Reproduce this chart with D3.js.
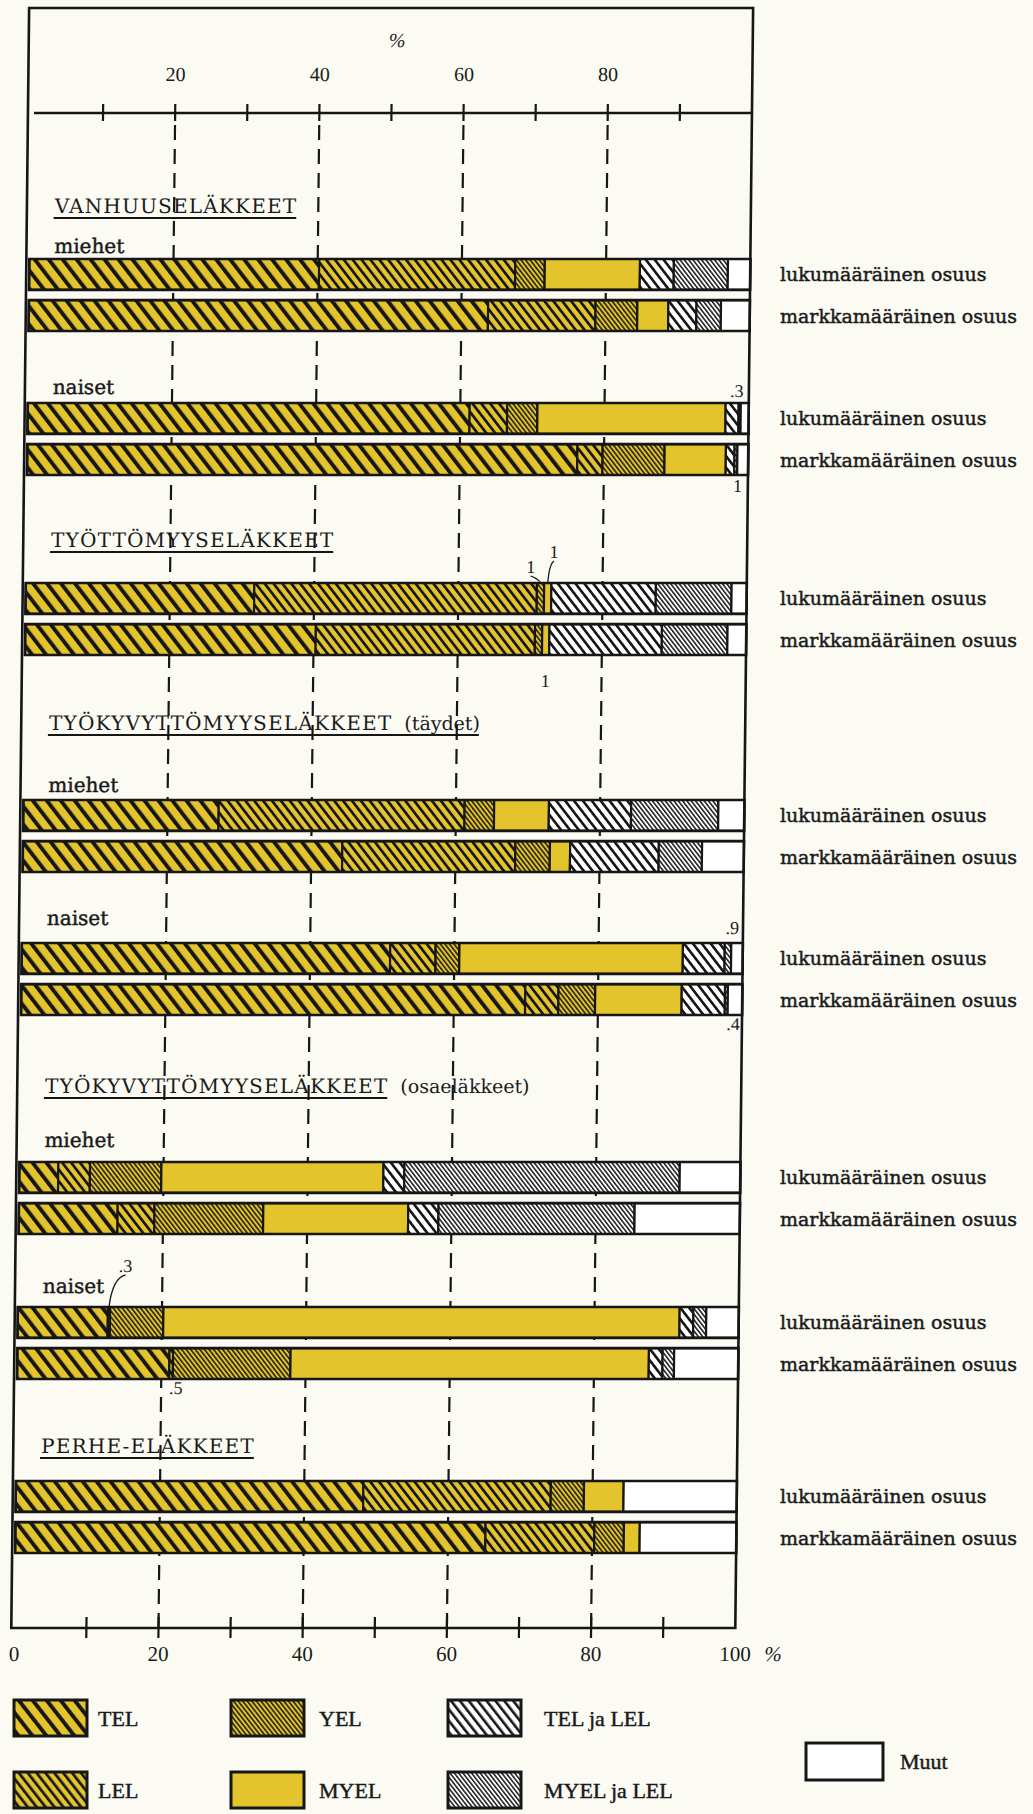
<!DOCTYPE html>
<html>
<head>
<meta charset="utf-8">
<script src="https://cdn.jsdelivr.net/npm/d3@7"></script>
<style>
  body { margin: 0; background: #fbfaf3; }
  svg { display: block; }
  text { fill: #1a1a1a; }
  .heavy { stroke: #1a1a1a; stroke-width: 0.45px; }
</style>
</head>
<body>
<div id="chart"></div>
<script>
// series (stack order, left to right)
const seriesKeys = ["TEL", "LEL", "YEL", "MYEL", "TEL ja LEL", "MYEL ja LEL", "Muut"];

// 16 bars: pairs of (lukumääräinen, markkamääräinen) per group
const barIds = ["v-m-l", "v-m-m", "v-n-l", "v-n-m", "t-l", "t-m", "tt-m-l", "tt-m-m",
  "tt-n-l", "tt-n-m", "to-m-l", "to-m-m", "to-n-l", "to-n-m", "p-l", "p-m"];

// shares in %
const telValues  = [40.2, 63.7, 61.3, 76.3, 31.7, 40.3, 27.1, 44.3, 51.1, 69.9, 5.4, 13.7, 12.5, 21.1, 48.2, 65.2];
const lelValues  = [27.2, 14.9, 5.2, 3.5, 39.2, 30.4, 34.1, 24.0, 6.3, 4.6, 4.4, 5.1, 0.3, 0.5, 26.0, 15.1];
const yelValues  = [4.1, 5.8, 4.2, 8.6, 1.0, 1.0, 4.1, 4.8, 3.3, 5.1, 9.9, 15.1, 7.4, 16.3, 4.6, 4.1];
const myelValues = [13.2, 4.3, 26.1, 8.5, 1.0, 1.0, 7.6, 2.8, 31.0, 12.0, 30.8, 20.1, 71.6, 49.7, 5.5, 2.2];
const telLelValues  = [4.7, 3.9, 1.8, 1.2, 14.5, 15.6, 11.4, 12.3, 5.8, 6.0, 2.9, 4.2, 1.9, 1.9, 0, 0];
const myelLelValues = [7.5, 3.4, 0.3, 0.4, 10.5, 9.1, 12.1, 6.0, 0.9, 0.4, 38.2, 27.2, 1.8, 1.6, 0, 0];
const muutValues = [3.1, 4.0, 1.1, 1.5, 2.1, 2.6, 3.6, 5.8, 1.6, 2.0, 8.4, 14.6, 4.5, 8.9, 15.7, 13.4];

const pairIds = ["v-m", "v-n", "t", "tt-m", "tt-n", "to-m", "to-n", "p"];
const pairLabels = ["miehet", "naiset", "", "miehet", "naiset", "miehet", "naiset", ""];
const memberIds = ["l", "m"];
const memberLabels = ["lukumääräinen osuus", "markkamääräinen osuus"];

const headings = [
  { text: "VANHUUSELÄKKEET", extra: "", underlineAll: false },
  { text: "TYÖTTÖMYYSELÄKKEET", extra: "", underlineAll: false },
  { text: "TYÖKYVYTTÖMYYSELÄKKEET", extra: "(täydet)", underlineAll: true },
  { text: "TYÖKYVYTTÖMYYSELÄKKEET", extra: "(osaeläkkeet)", underlineAll: false },
  { text: "PERHE-ELÄKKEET", extra: "", underlineAll: false }
];

const topTicks = [20, 40, 60, 80];
const bottomTicks = [0, 20, 40, 60, 80, 100];
const minorTicks = [10, 20, 30, 40, 50, 60, 70, 80, 90];

// small value notes written next to thin segments
const notes = [
  { bar: 2, key: "MYEL ja LEL", text: ".3", side: "top", dx: -3, dy: -6 },
  { bar: 3, key: "MYEL ja LEL", text: "1", side: "bottom", dx: 2, dy: 17 },
  { bar: 4, key: "YEL", text: "1", side: "top", dx: -10, dy: -10, lead: true },
  { bar: 4, key: "MYEL", text: "1", side: "top", dx: 6, dy: -25, lead: true },
  { bar: 5, key: "MYEL", text: "1", side: "bottom", dx: 0, dy: 32 },
  { bar: 8, key: "MYEL ja LEL", text: ".9", side: "top", dx: 4, dy: -9 },
  { bar: 9, key: "MYEL ja LEL", text: ".4", side: "bottom", dx: 7, dy: 15 },
  { bar: 12, key: "LEL", text: ".3", side: "top", dx: 16, dy: -35, lead: true },
  { bar: 13, key: "LEL", text: ".5", side: "bottom", dx: 5, dy: 15 }
];

const ink = "#161616";
const yellow = "#e4c42c";
const paper = "#fbfaf3";
const serif = "'DejaVu Serif', serif";
const numFont = "'Liberation Serif', serif";

const W = 1033, H = 1814;
const frameTop = 8, axisTopY = 113, axisBottomY = 1628;

const svg = d3.select("#chart").append("svg")
  .attr("width", W).attr("height", H);

svg.append("rect").attr("width", W).attr("height", H).attr("fill", paper);

// hatch patterns
const defs = svg.append("defs");
function hatch(id, bg, period, width) {
  const p = defs.append("pattern")
    .attr("id", id)
    .attr("patternUnits", "userSpaceOnUse")
    .attr("width", period).attr("height", period)
    .attr("patternTransform", "rotate(-38)");
  p.append("rect").attr("width", period).attr("height", period).attr("fill", bg);
  p.append("rect").attr("width", width).attr("height", period).attr("fill", ink);
}
hatch("p-tel", yellow, 11, 3.9);
hatch("p-lel", yellow, 7, 2.7);
hatch("p-yel", yellow, 3.6, 1.5);
hatch("p-tellel", "#ffffff", 7, 2.6);
hatch("p-myellel", "#ffffff", 3.4, 1.5);

const fills = d3.scaleOrdinal()
  .domain(seriesKeys)
  .range(["url(#p-tel)", "url(#p-lel)", "url(#p-yel)", yellow, "url(#p-tellel)", "url(#p-myellel)", "#ffffff"]);

// table for the stack
const table = barIds.map((id, i) => ({
  id,
  "TEL": telValues[i], "LEL": lelValues[i], "YEL": yelValues[i], "MYEL": myelValues[i],
  "TEL ja LEL": telLelValues[i], "MYEL ja LEL": myelLelValues[i], "Muut": muutValues[i]
}));
const stacked = d3.stack().keys(seriesKeys)(table);

// scales
const x = d3.scaleLinear().domain([0, 100]).range([32.2, 753.2]);
const pairY = d3.scaleOrdinal().domain(pairIds).range([259, 403, 583, 800, 943, 1162, 1307, 1481]);
const memberY = d3.scaleBand().domain(memberIds).range([0, 72]).paddingInner(0.25);
const barTop = i => pairY(pairIds[Math.floor(i / 2)]) + memberY(memberIds[i % 2]);
const barH = memberY.bandwidth();

// the scan leans slightly: verticals drift left going down
const g = svg.append("g").attr("transform", "skewX(-0.63)");

// frame
g.append("rect")
  .attr("x", x(0) - 3).attr("y", frameTop)
  .attr("width", x(100) - x(0) + 3).attr("height", axisBottomY - frameTop)
  .attr("fill", "none").attr("stroke", ink).attr("stroke-width", 2.6);

// top axis
g.append("line")
  .attr("x1", x(0) + 3).attr("x2", x(100))
  .attr("y1", axisTopY).attr("y2", axisTopY)
  .attr("stroke", ink).attr("stroke-width", 2.6);
g.selectAll(".tt").data(minorTicks).join("line")
  .attr("x1", d => x(d)).attr("x2", d => x(d))
  .attr("y1", axisTopY - 9).attr("y2", axisTopY + 8)
  .attr("stroke", ink).attr("stroke-width", 2.2);
g.selectAll(".tl").data(topTicks).join("text")
  .attr("x", d => x(d)).attr("y", 81)
  .attr("text-anchor", "middle")
  .style("font-family", numFont).style("font-size", "20px")
  .text(d => d);
g.append("text")
  .attr("x", x(50) + 5).attr("y", 47)
  .attr("text-anchor", "middle")
  .style("font-family", numFont).style("font-size", "20px").style("font-style", "italic")
  .text("%");

// dashed grid lines
g.selectAll(".grid").data(topTicks).join("line")
  .attr("x1", d => x(d)).attr("x2", d => x(d))
  .attr("y1", axisTopY + 12).attr("y2", axisBottomY)
  .attr("stroke", ink).attr("stroke-width", 2.2)
  .attr("stroke-dasharray", "15,9");

// bottom axis
g.selectAll(".bt").data(minorTicks).join("line")
  .attr("x1", d => x(d)).attr("x2", d => x(d))
  .attr("y1", axisBottomY - 11).attr("y2", axisBottomY + 10)
  .attr("stroke", ink).attr("stroke-width", 2.2);
g.selectAll(".bl").data(bottomTicks).join("text")
  .attr("x", d => x(d)).attr("y", axisBottomY + 33)
  .attr("text-anchor", "middle")
  .style("font-family", numFont).style("font-size", "21px")
  .text(d => d);
g.append("text")
  .attr("x", x(100) + 38).attr("y", axisBottomY + 33)
  .attr("text-anchor", "middle")
  .style("font-family", numFont).style("font-size", "21px").style("font-style", "italic")
  .text("%");

// headings
const headingY = [213, 547, 730, 1093, 1453];
headings.forEach((h, i) => {
  const t = g.append("text")
    .attr("x", 57).attr("y", headingY[i])
    .style("font-family", serif).style("font-size", "20px").style("letter-spacing", "1.2px")
    .text(h.text);
  let w = t.node().getComputedTextLength();
  let lineW = w;
  if (h.extra) {
    const e = g.append("text")
      .attr("x", 57 + w + 12).attr("y", headingY[i])
      .style("font-family", serif).style("font-size", "19px")
      .text(h.extra);
    if (h.underlineAll) lineW = w + 12 + e.node().getComputedTextLength();
  }
  g.append("line")
    .attr("x1", 56).attr("x2", 56 + lineW)
    .attr("y1", headingY[i] + 5).attr("y2", headingY[i] + 5)
    .attr("stroke", ink).attr("stroke-width", 1.8);
});

// miehet / naiset
const subY = [253, 394, 0, 792, 925, 1147, 1293, 0];
pairLabels.forEach((lab, i) => {
  if (!lab) return;
  g.append("text")
    .attr("class", "heavy")
    .attr("x", 57).attr("y", subY[i])
    .style("font-family", serif).style("font-size", "20px")
    .text(lab);
});

// bars
const bars = g.append("g");
stacked.forEach(layer => {
  bars.selectAll(null).data(layer.map((d, i) => ({ d, i }))).join("rect")
    .filter(o => o.d[1] - o.d[0] > 0)
    .attr("x", o => x(o.d[0]))
    .attr("y", o => barTop(o.i))
    .attr("width", o => x(o.d[1]) - x(o.d[0]))
    .attr("height", barH)
    .attr("fill", fills(layer.key))
    .attr("stroke", ink).attr("stroke-width", 2.2);
});
bars.selectAll(".outline").data(barIds).join("rect")
  .attr("x", x(0)).attr("y", (d, i) => barTop(i))
  .attr("width", x(100) - x(0)).attr("height", barH)
  .attr("fill", "none").attr("stroke", ink).attr("stroke-width", 2.6);

// notes on thin segments
notes.forEach(n => {
  const layer = stacked[seriesKeys.indexOf(n.key)];
  const seg = layer[n.bar];
  const mx = x((seg[0] + seg[1]) / 2);
  const edge = n.side === "top" ? barTop(n.bar) : barTop(n.bar) + barH;
  const tx = mx + n.dx, ty = edge + n.dy;
  g.append("text")
    .attr("x", tx).attr("y", ty)
    .attr("text-anchor", "middle")
    .style("font-family", numFont).style("font-size", "18px")
    .text(n.text);
  if (n.lead) {
    const p = d3.path();
    p.moveTo(tx, ty + 3);
    p.quadraticCurveTo(mx + n.dx * 0.2, ty + 6, mx, edge);
    g.append("path").attr("d", p.toString())
      .attr("fill", "none").attr("stroke", ink).attr("stroke-width", 1.3);
  }
});

// right-hand labels (not leaning)
svg.selectAll(".rl").data(barIds).join("text")
  .attr("class", "heavy")
  .attr("x", 780)
  .attr("y", (d, i) => barTop(i) + barH / 2 + 7)
  .style("font-family", serif).style("font-size", "19px")
  .text((d, i) => memberLabels[i % 2]);

// legend
const legendKeys = ["TEL", "LEL", "YEL", "MYEL", "TEL ja LEL", "MYEL ja LEL"];
const legX = d3.scalePoint().domain([0, 1, 2]).range([14, 448]);
const legY = d3.scalePoint().domain([0, 1]).range([1700, 1772]);
const labelGap = [84, 88, 96];
const leg = svg.append("g");
legendKeys.forEach((k, i) => {
  const col = Math.floor(i / 2), row = i % 2;
  leg.append("rect")
    .attr("x", legX(col)).attr("y", legY(row))
    .attr("width", 73).attr("height", 36)
    .attr("fill", fills(k)).attr("stroke", ink).attr("stroke-width", 3);
  leg.append("text")
    .attr("class", "heavy")
    .attr("x", legX(col) + labelGap[col]).attr("y", legY(row) + 26)
    .style("font-family", numFont).style("font-size", "22px")
    .text(k);
});
leg.append("rect")
  .attr("x", 806).attr("y", 1743).attr("width", 77).attr("height", 37)
  .attr("fill", fills("Muut")).attr("stroke", ink).attr("stroke-width", 3);
leg.append("text")
  .attr("class", "heavy")
  .attr("x", 900).attr("y", 1769)
  .style("font-family", numFont).style("font-size", "22px")
  .text("Muut");
</script>
</body>
</html>
